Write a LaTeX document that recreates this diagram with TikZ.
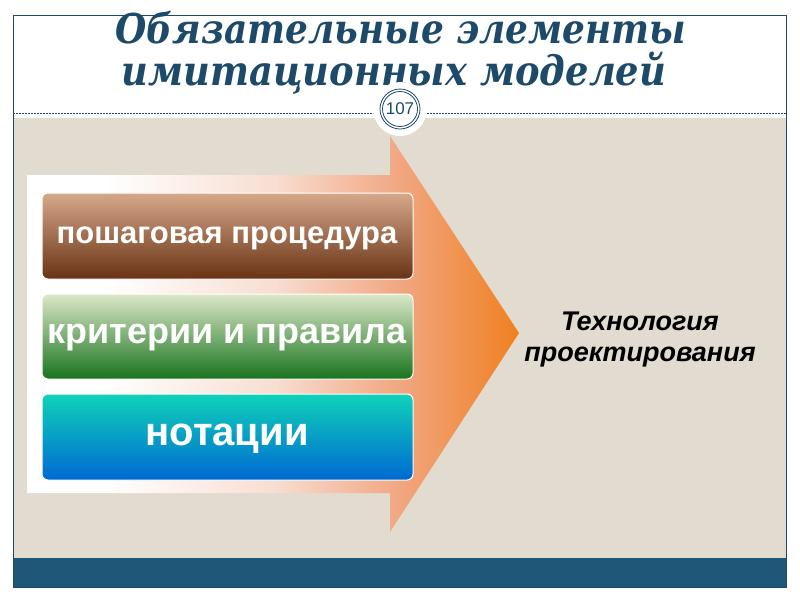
\documentclass[tikz,border=0pt]{standalone}
\usepackage{fontspec}
\setmainfont{Liberation Sans}
\newfontfamily\titlefont{DejaVu Serif}
\usetikzlibrary{shadings}
\definecolor{titleblue}{RGB}{28,74,104}
\definecolor{beige}{RGB}{226,220,208}
\definecolor{bandblue}{RGB}{30,88,120}
\definecolor{arrowpink}{RGB}{248,222,210}
\definecolor{arrowsalmon}{RGB}{241,166,128}
\definecolor{arroworange}{RGB}{240,128,32}
\definecolor{browntop}{RGB}{214,168,138}
\definecolor{brownmid}{RGB}{170,90,45}
\definecolor{brownbot}{RGB}{105,50,20}
\definecolor{greentop}{RGB}{220,232,200}
\definecolor{greenmid}{RGB}{120,170,80}
\definecolor{greenbot}{RGB}{25,115,30}
\definecolor{bluetop}{RGB}{15,210,185}
\definecolor{bluemid}{RGB}{30,200,225}
\definecolor{bluebot}{RGB}{0,105,210}
\pgfdeclarehorizontalshading{arrowshade}{100bp}{color(0bp)=(white); color(25bp)=(white); color(33bp)=(white); color(50bp)=(arrowpink); color(63bp)=(arrowsalmon); color(75bp)=(arroworange); color(100bp)=(arroworange)}
\tikzset{
  itembox/.style={rounded corners=6pt, draw=white, line width=1pt},
  itemtext/.style={text=white},
  titletext/.style={anchor=base, inner sep=0pt, text=titleblue, font=\titlefont\bfseries\itshape\fontsize{41}{44}\selectfont},
}
\begin{document}
\begin{tikzpicture}[x=1pt,y=-1pt]
\useasboundingbox (0,0) rectangle (800,600);
\fill[white] (0,0) rectangle (800,600);
% beige content area
\fill[beige] (13,118) rectangle (786,558);
% blue band
\fill[bandblue] (13,558) rectangle (786,587);
% frame
\draw[titleblue, line width=0.8pt] (13,15) rectangle (786,587);
% dashed separator
\coordinate (dl) at (13,113);
\coordinate (dr) at (786,113);
\draw[titleblue, dash pattern=on 2pt off 1pt, line width=0.5pt] (dl) -- (dr);
% title
\node[titletext] (t1) at (401,43) {\scalebox{0.876}[1]{Обязательные элементы}};
\node[titletext] (t2) at (394,85) {\scalebox{0.899}[1]{имитационных моделей}};
% arrow
\path[shading=arrowshade] (27,175) -- (390,175) -- (390,136) -- (519,333) -- (390,532) -- (390,493) -- (27,493) -- cycle;
% page number circle
\fill[white] (400,109) circle (27);
\draw[titleblue, line width=0.8pt] (400,109) circle (20);
\draw[titleblue, line width=0.8pt] (400,109) circle (17.5);
\node[font=\fontsize{17}{17}\selectfont, text=titleblue] (pg) at (400,109) {107};
% boxes
\shade[itembox, top color=browntop, middle color=brownmid, bottom color=brownbot] (42,193) rectangle (413,279);
\node[itemtext, font=\bfseries\fontsize{31}{32}\selectfont] (b1) at (227,238) {пошаговая процедура};
\shade[itembox, top color=greentop, middle color=greenmid, bottom color=greenbot] (42,294) rectangle (413,379);
\node[itemtext, font=\bfseries\fontsize{36}{38}\selectfont] (b2) at (227,338) {критерии и правила};
\shade[itembox, top color=bluetop, middle color=bluemid, bottom color=bluebot] (42,394) rectangle (413,480);
\node[itemtext, font=\bfseries\fontsize{40}{42}\selectfont] (b3) at (227,439) {нотации};
% result text
\node[font=\bfseries\itshape\fontsize{27}{31}\selectfont, align=center, text=black] (res) at (640,340) {Технология\\проектирования};
\end{tikzpicture}
\end{document}
